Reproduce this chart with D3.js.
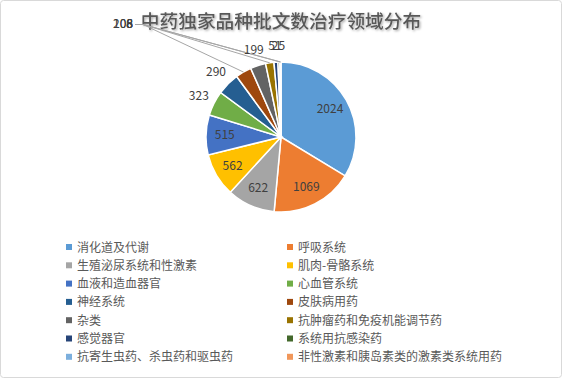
<!DOCTYPE html>
<html lang="zh">
<head>
  <meta charset="UTF-8">
  <title>中药独家品种批文数治疗领域分布</title>
  <style>
    body { margin: 0; background: #fff; }
    svg { display: block; font-family: "Noto Sans CJK SC", "Noto Sans", sans-serif; }
  </style>
</head>
<body>
<div class="chart"></div>
<script src="https://cdn.jsdelivr.net/npm/d3@7/dist/d3.min.js"></script>
<script>
  // data
  const categories = [
    "消化道及代谢", "呼吸系统", "生殖泌尿系统和性激素", "肌肉-骨骼系统",
    "血液和造血器官", "心血管系统", "神经系统", "皮肤病用药",
    "杂类", "抗肿瘤药和免疫机能调节药", "感觉器官", "系统用抗感染药",
    "抗寄生虫药、杀虫药和驱虫药", "非性激素和胰岛素类的激素类系统用药"
  ];
  const counts = [2024, 1069, 622, 562, 515, 323, 290, 208, 199, 108, 51, 25, 8, 6];
  const colors = [
    "#5b9bd5", "#ed7d31", "#a5a5a5", "#ffc000", "#4472c4", "#70ad47", "#255e91",
    "#9e480e", "#636363", "#997300", "#264478", "#43682b", "#7cafdd", "#f1975a"
  ];
  // how each data label is placed: inside, outside, near (small, above slice) or parked top-left with a leader line
  const labelMode = ["in", "in", "in", "in", "in", "out", "out", "park", "near", "park", "near", "near", "park", "park"];

  const width = 562, height = 378;
  const cx = 281, cy = 137, radius = 75;
  const parkPos = [133, 28];

  const svg = d3.select(".chart").append("svg")
    .attr("width", width)
    .attr("height", height);

  const defs = svg.append("defs");
  const shadow = defs.append("filter").attr("id", "shadow")
    .attr("x", "-10%").attr("y", "-30%").attr("width", "120%").attr("height", "160%");
  shadow.append("feDropShadow")
    .attr("dx", 1.2).attr("dy", 1.2).attr("stdDeviation", 0.9)
    .attr("flood-color", "#000").attr("flood-opacity", 0.35);

  svg.append("rect")
    .attr("x", 0.5).attr("y", 0.5)
    .attr("width", width - 1).attr("height", height - 1)
    .attr("rx", 3)
    .attr("fill", "#fff")
    .attr("stroke", "#d9d9d9");

  svg.append("text")
    .attr("x", cx)
    .attr("y", 28)
    .attr("text-anchor", "middle")
    .attr("font-size", 18.7)
    .attr("font-weight", 500)
    .attr("fill", "#595959")
    .attr("filter", "url(#shadow)")
    .text("中药独家品种批文数治疗领域分布");

  const pie = d3.pie().sort(null).value(d => d);
  const arcs = pie(counts);
  const arc = d3.arc().innerRadius(0).outerRadius(radius);
  const inArc = d3.arc().innerRadius(radius * 0.75).outerRadius(radius * 0.75);
  const outArc = d3.arc().innerRadius(radius + 17).outerRadius(radius + 17);
  const nearArc = d3.arc().innerRadius(radius + 14).outerRadius(radius + 14);
  const edgeArc = d3.arc().innerRadius(radius).outerRadius(radius);

  const g = svg.append("g").attr("transform", `translate(${cx},${cy})`);

  // leader lines for the parked labels
  const lines = svg.append("g")
    .attr("fill", "none")
    .attr("stroke", "#a6a6a6")
    .attr("stroke-width", 1);
  arcs.forEach((a, i) => {
    if (labelMode[i] !== "park") return;
    const e = edgeArc.centroid(a);
    lines.append("polyline")
      .attr("points", [
        [parkPos[0] + 2, parkPos[1] - 3.5],
        [parkPos[0] + 10, parkPos[1] - 3.5],
        [cx + e[0], cy + e[1]]
      ].map(p => p.join(",")).join(" "));
  });

  g.selectAll("path")
    .data(arcs)
    .enter()
    .append("path")
    .attr("d", arc)
    .attr("fill", (d, i) => colors[i])
    .attr("stroke", "#fff")
    .attr("stroke-width", 1.5);

  const labels = svg.append("g")
    .attr("font-size", 12)
    .attr("fill", "#404040");
  arcs.forEach((a, i) => {
    const mode = labelMode[i];
    let x, y, anchor = "middle";
    if (mode === "in") {
      const c = inArc.centroid(a);
      x = cx + c[0]; y = cy + c[1] + 4;
    } else if (mode === "out") {
      const c = outArc.centroid(a);
      x = cx + c[0]; y = cy + c[1] + 4;
    } else if (mode === "near") {
      const c = nearArc.centroid(a);
      x = cx + c[0]; y = cy + c[1] + 2;
    } else {
      x = parkPos[0]; y = parkPos[1]; anchor = "end";
    }
    labels.append("text")
      .attr("x", x)
      .attr("y", y)
      .attr("text-anchor", anchor)
      .text(counts[i]);
  });

  // legend, two columns
  const legend = svg.append("g")
    .attr("font-size", 12)
    .attr("fill", "#595959");
  categories.forEach((name, i) => {
    const col = i % 2, row = Math.floor(i / 2);
    const lx = col === 0 ? 66 : 287;
    const ly = 247 + row * 18.3;
    legend.append("rect")
      .attr("x", lx).attr("y", ly - 3)
      .attr("width", 6).attr("height", 6)
      .attr("fill", colors[i]);
    legend.append("text")
      .attr("x", lx + 11)
      .attr("y", ly + 4.5)
      .text(name);
  });
</script>
</body>
</html>
